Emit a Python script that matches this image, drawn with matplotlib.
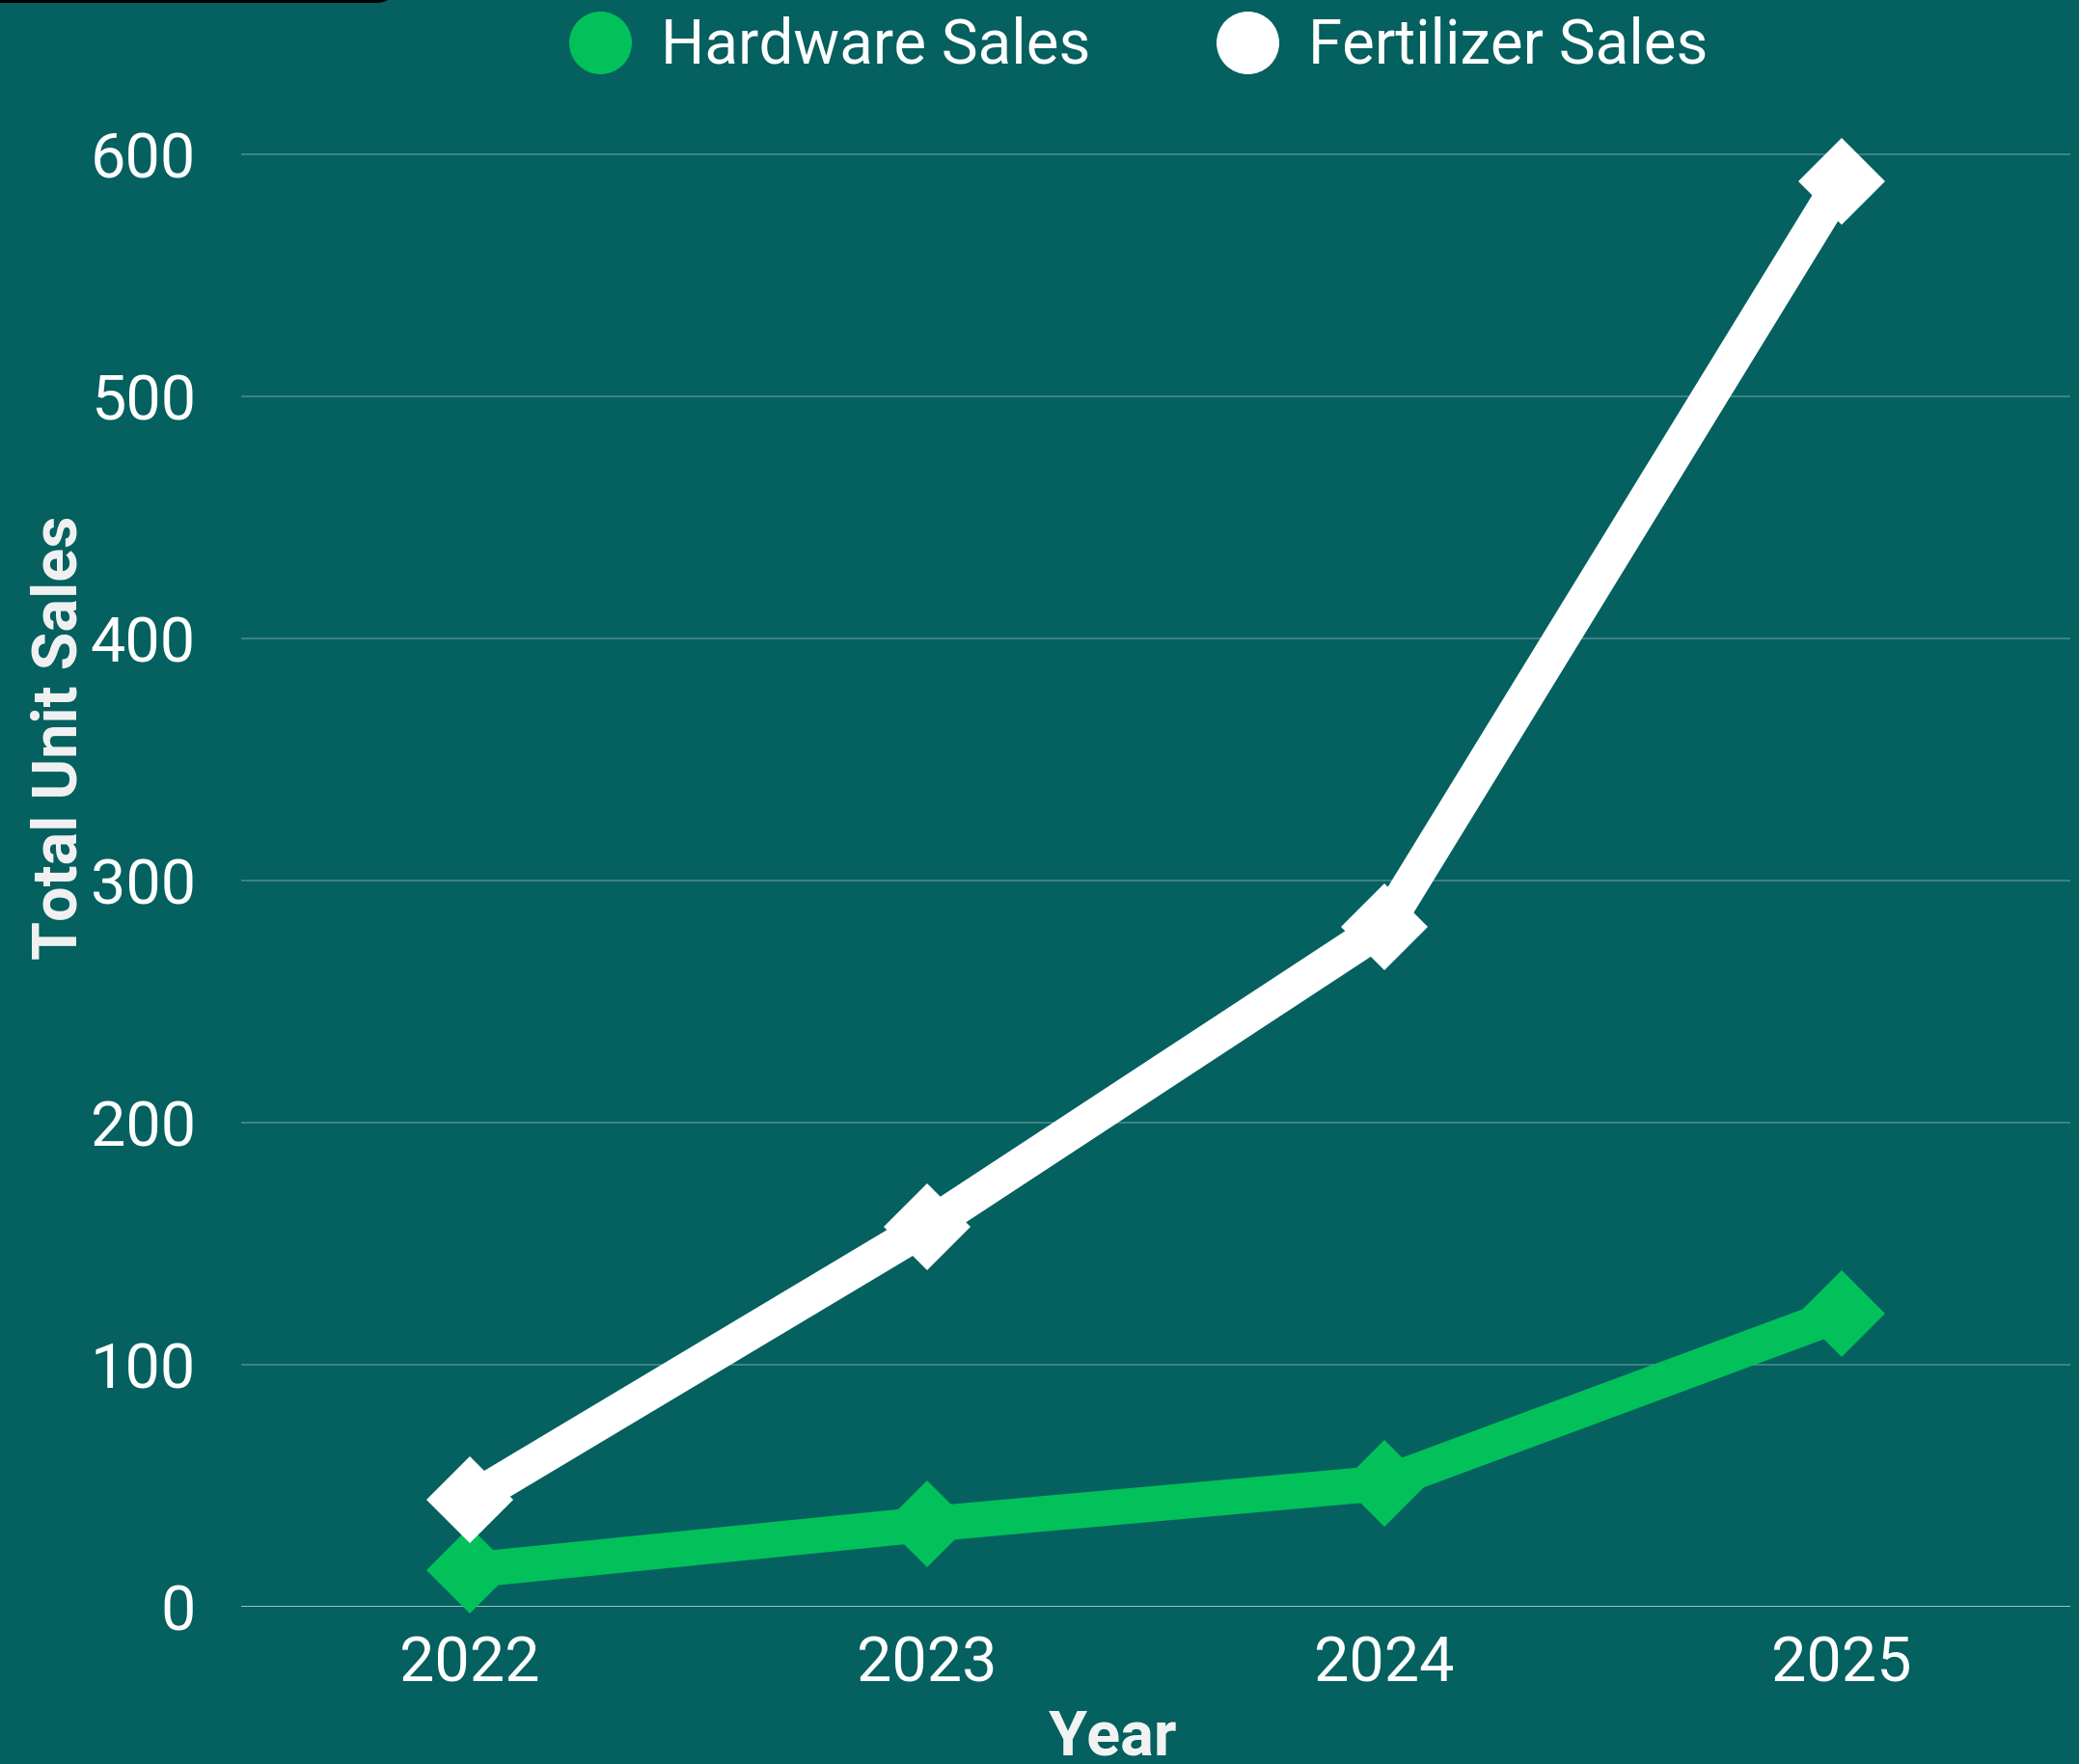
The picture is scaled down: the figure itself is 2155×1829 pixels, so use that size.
import matplotlib.pyplot as plt
from matplotlib.lines import Line2D
from matplotlib.patches import FancyBboxPatch

# data
years = ["2022", "2023", "2024", "2025"]
hardware_sales = [15, 34, 51, 121]
fertilizer_sales = [44, 157, 281, 589]
y_ticks = [0, 100, 200, 300, 400, 500, 600]

BG = "#056060"
GREEN = "#02c05a"
WHITE = "#ffffff"

plt.rcParams['font.family'] = ['Roboto', 'DejaVu Sans']

W, H = 2155, 1829
fig = plt.figure(figsize=(W / 100, H / 100), dpi=100, facecolor=BG)

# axes placed in pixel terms
left, right, bottom_px, top_px = 250, 2146, 1665.7, 100
ax = fig.add_axes([left / W, 1 - bottom_px / H, (right - left) / W, (bottom_px - top_px) / H])
ax.set_facecolor(BG)

x = range(len(years))
ax.plot(x, hardware_sales, color=GREEN, lw=26.5, marker='D', ms=46, mew=0,
        clip_on=False, zorder=3)
ax.plot(x, fertilizer_sales, color=WHITE, lw=26.5, marker='D', ms=46, mew=0,
        clip_on=False, zorder=4)

ax.set_xlim(-0.5, 3.5)
ax.set_ylim(0, 624)
ax.set_xticks(list(x))
ax.set_xticklabels(years)
ax.set_yticks(y_ticks)

for s in ax.spines.values():
    s.set_visible(False)
ax.tick_params(axis='both', length=0, labelsize=46.6, labelcolor='white')
ax.tick_params(axis='y', pad=34)
ax.tick_params(axis='x', pad=21)

for v in y_ticks[1:]:
    ax.axhline(v, color='#438787', lw=1.3, zorder=1)
ax.axhline(0, color='#9fc6c6', lw=1.4, zorder=1)

# axis titles
fig.text(1154 / W, 1 - 1820 / H, "Year", fontsize=46.6, fontweight='bold',
         color='#f2f2f2', ha='center', va='baseline')
fig.text(80 / W, 1 - 765 / H, "Total Unit Sales", fontsize=46.6, fontweight='bold',
         color='#f2f2f2', rotation=90, rotation_mode='anchor',
         ha='center', va='baseline')

# legend
handles = [
    Line2D([], [], ls='none', marker='o', ms=46.8, mew=0, color=GREEN),
    Line2D([], [], ls='none', marker='o', ms=46.8, mew=0, color=WHITE),
]
leg = fig.legend(handles, ["Hardware Sales", "Fertilizer Sales"], ncol=2,
                 loc='center', bbox_to_anchor=(1180 / W, 1 - 48 / H),
                 frameon=False, fontsize=45.8, handlelength=1.02,
                 handletextpad=0.49, columnspacing=2.04, borderpad=0,
                 labelcolor='white')

# dark rounded strip at the top-left edge
fig.add_artist(FancyBboxPatch((-30 / W, 1 - 3 / H), 440 / W, 40 / H,
                              boxstyle="round,pad=0,rounding_size=0.01",
                              transform=fig.transFigure, color='black', lw=0))

fig.savefig("out.png", dpi=100, facecolor=BG)
